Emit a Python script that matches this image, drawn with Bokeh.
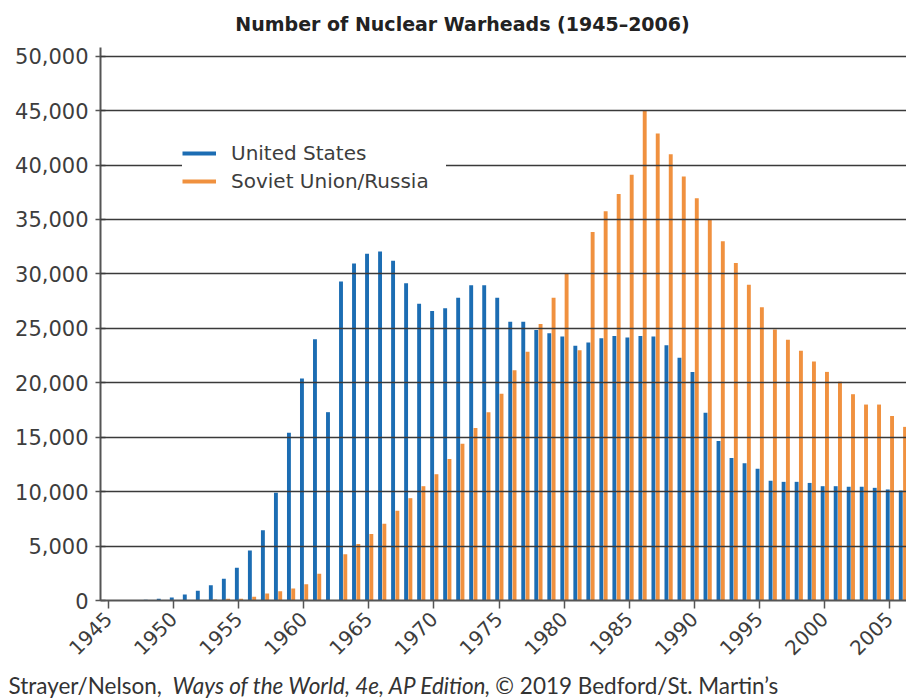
from bokeh.plotting import figure
from bokeh.layouts import column
from bokeh.models import Range1d, FixedTicker, NumeralTickFormatter, Label, Legend, LegendItem, ColumnDataSource
from bokeh.transform import dodge
from bokeh.embed import file_html
from bokeh.resources import INLINE
from math import pi

years = list(range(1945, 2007))
us_warheads = [
    10, 20, 30, 60, 150, 280, 550, 900, 1400, 2000,
    3000, 4600, 6450, 9900, 15400, 20400, 24000, 17300, 29300, 30950,
    31850, 32050, 31200, 29150, 27250, 26600, 26850, 27800, 28950, 28950,
    27800, 25600, 25600, 24850, 24550, 24250, 23400, 23700, 24100, 24300,
    24150, 24300, 24250, 23450, 22300, 21000, 17250, 14650, 13100, 12600,
    12100, 11000, 10900, 10900, 10800, 10500, 10500, 10450, 10450, 10350,
    10200, 10100,
]
ussr_warheads = [
    0, 0, 0, 0, 5, 10, 25, 50, 100, 150,
    150, 350, 650, 850, 1100, 1500, 2450, 0, 4250, 5200,
    6100, 7050, 8250, 9400, 10500, 11600, 13000, 14400, 15850, 17300,
    19000, 21150, 22850, 25400, 27800, 30000, 23000, 33850, 35750, 37350,
    39100, 45000, 42900, 41000, 38950, 36950, 34950, 33000, 31000, 29000,
    26950, 24900, 23950, 22950, 21950, 21000, 20100, 18950, 18000, 18000,
    16950, 15950,
]
x_ticks = list(range(1945, 2006, 5))
y_ticks = list(range(0, 50001, 5000))
series_names = ["United States", "Soviet Union/Russia"]
title_text = "Number of Nuclear Warheads (1945\u20132006)"
source_parts = ["Strayer/Nelson,", "Ways of the World, 4e, AP Edition",
                ", \u00a9 2019 Bedford/St. Martin\u2019s"]

BLUE = "#1c6db3"
ORANGE = "#f0913f"
TXT = "#3d3d3d"
W = 906


def text_strip(height):
    f = figure(width=W, height=height, output_backend="svg", toolbar_location=None,
               x_range=Range1d(0, 1), y_range=Range1d(0, 1),
               min_border=0, x_axis_type=None, y_axis_type=None, frame_align=False)
    f.outline_line_color = None
    f.grid.visible = False
    return f


# ---- title strip ----
top = text_strip(40)
top.add_layout(Label(x=462, y=17, x_units="screen", y_units="screen", text=title_text,
                     text_font="DejaVu Sans", text_font_style="bold", text_font_size="19px",
                     text_color="#222222", text_align="center", text_baseline="middle"))

# ---- main chart ----
src = ColumnDataSource(dict(year=years, us=us_warheads, ussr=ussr_warheads))

p = figure(width=W, height=628, output_backend="svg", toolbar_location=None,
           x_range=Range1d(1944.385, 2006.3), y_range=Range1d(0, 50800),
           min_border_left=100, min_border_right=0, min_border_top=7, min_border_bottom=68,
           frame_align=False)
p.outline_line_color = None

p.vbar(x=dodge("year", -0.14, range=p.x_range), top="us", width=0.3, bottom=0,
       source=src, fill_color=BLUE, line_color=None)
p.vbar(x=dodge("year", 0.19, range=p.x_range), top="ussr", width=0.3, bottom=0,
       source=src, fill_color=ORANGE, line_color=None)

p.xgrid.visible = False
p.ygrid.ticker = FixedTicker(ticks=y_ticks)
p.ygrid.grid_line_color = "#3a3a3a"
p.ygrid.grid_line_width = 1.6
p.ygrid.level = "guide"

p.yaxis.ticker = FixedTicker(ticks=y_ticks)
p.yaxis.formatter = NumeralTickFormatter(format="0,0")
p.yaxis.axis_line_color = "#555555"
p.yaxis.axis_line_width = 2
p.yaxis.major_tick_line_color = "#555555"
p.yaxis.major_tick_line_width = 1.5
p.yaxis.major_tick_in = 5
p.yaxis.major_tick_out = 5
p.yaxis.minor_tick_line_color = None
p.yaxis.major_label_text_font = "DejaVu Sans"
p.yaxis.major_label_text_font_size = "21px"
p.yaxis.major_label_text_color = TXT
p.yaxis.major_label_standoff = 7

p.xaxis.ticker = FixedTicker(ticks=x_ticks)
p.xaxis.axis_line_color = "#555555"
p.xaxis.axis_line_width = 2
p.xaxis.major_tick_line_color = "#555555"
p.xaxis.major_tick_line_width = 1.5
p.xaxis.major_tick_in = 0
p.xaxis.major_tick_out = 8
p.xaxis.minor_tick_line_color = None
p.xaxis.major_label_orientation = pi / 4
p.xaxis.major_label_text_font = "DejaVu Sans"
p.xaxis.major_label_text_font_size = "20px"
p.xaxis.major_label_text_color = TXT
p.xaxis.major_label_standoff = 7

# legend with line samples (hidden line renderers)
l1 = p.line(x="year", y="us", source=src, line_color=BLUE, line_width=4, visible=False)
l2 = p.line(x="year", y="ussr", source=src, line_color=ORANGE, line_width=4, visible=False)
legend = Legend(items=[LegendItem(label=series_names[0], renderers=[l1]),
                       LegendItem(label=series_names[1], renderers=[l2])],
                location=(82, 407), orientation="vertical",
                glyph_width=34, glyph_height=20, label_height=20, label_width=215,
                label_standoff=15, spacing=4, padding=8, margin=0,
                border_line_color=None, background_fill_color="white", background_fill_alpha=1.0,
                inactive_fill_alpha=0.0, click_policy="none",
                label_text_font="DejaVu Sans", label_text_font_size="20px", label_text_color=TXT)
p.add_layout(legend)

# ---- source strip ----
bottom = text_strip(30)
foot_kw = dict(y=13, x_units="screen", y_units="screen", text_font="Lato",
               text_font_size="22.5px", text_color="#333333", text_align="left",
               text_baseline="middle")
bottom.add_layout(Label(x=8, text=source_parts[0], **foot_kw))
bottom.add_layout(Label(x=172, text=source_parts[1], text_font_style="italic", **foot_kw))
bottom.add_layout(Label(x=484, text=source_parts[2], **foot_kw))

layout = column(top, p, bottom, spacing=0)
open("out.html", "w").write(file_html(layout, INLINE))
